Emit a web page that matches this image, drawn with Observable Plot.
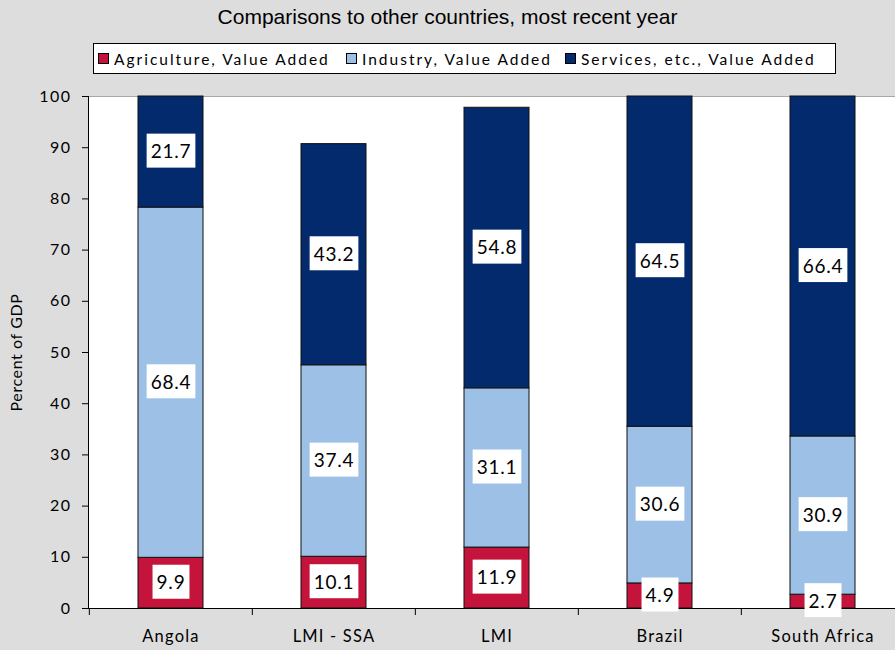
<!DOCTYPE html>
<html><head><meta charset="utf-8">
<script src="https://cdn.jsdelivr.net/npm/d3@7"></script>
<script src="https://cdn.jsdelivr.net/npm/@observablehq/plot@0.6"></script>
<style>
html,body{margin:0;padding:0;background:#dddddd;}
#wrap{position:relative;width:895px;height:650px;overflow:hidden;}
#chart{position:absolute;left:0;top:0;}
#title{position:absolute;left:0;top:5px;width:895px;text-align:center;font-family:"Liberation Sans",Arial,sans-serif;font-size:21px;color:#000;}
#legend{position:absolute;left:93px;top:43px;width:741px;height:29px;background:#fff;border:1px solid #000;}
.item{position:absolute;top:0;height:29px;display:flex;align-items:center;font-family:Lato,sans-serif;font-size:15.5px;letter-spacing:2px;color:#000;white-space:nowrap;}
.sw{display:inline-block;width:9px;height:9px;border:1px solid #000;margin-right:5px;}
#chart svg g[aria-label="y-axis tick label"] text{letter-spacing:1.5px;}
#chart svg g[aria-label="x-axis tick label"] text{letter-spacing:1.2px;}
#chart svg g[aria-label="y-axis label"] text{letter-spacing:0.6px;}
#chart svg g.vlabel text{letter-spacing:0.8px;}
</style>
</head><body>
<div id="wrap">
  <div id="chart"></div>
  <div id="title"></div>
  <div id="legend"></div>
</div>
<script>
const title = "Comparisons to other countries, most recent year";
const categories = ["Angola", "LMI - SSA", "LMI", "Brazil", "South Africa"];
const sectors = ["Agriculture, Value Added", "Industry, Value Added", "Services, etc., Value Added"];
const sectorColors = ["#c4143c", "#9dc0e6", "#022a6c"];
const agriculture = [9.9, 10.1, 11.9, 4.9, 2.7];
const industry = [68.4, 37.4, 31.1, 30.6, 30.9];
const services = [21.7, 43.2, 54.8, 64.5, 66.4];
const yTicks = [0, 10, 20, 30, 40, 50, 60, 70, 80, 90, 100];
const yLabel = "Percent of GDP";

const series = [agriculture, industry, services];
const rows = [];
categories.forEach((c, i) => {
  sectors.forEach((s, j) => rows.push({cat: c, sector: s, value: series[j][i]}));
});

document.getElementById("title").textContent = title;
const legend = document.getElementById("legend");
const legendLefts = [4, 252, 471];
sectors.forEach((s, j) => {
  const it = document.createElement("div");
  it.className = "item";
  it.style.left = legendLefts[j] + "px";
  const sw = document.createElement("span");
  sw.className = "sw";
  sw.style.background = sectorColors[j];
  it.append(sw, document.createTextNode(s));
  legend.append(it);
});

const xRange = [88, 904.6];
const step = (xRange[1] - xRange[0]) / categories.length;

const plot = Plot.plot({
  width: 895, height: 650,
  marginTop: 96, marginBottom: 42, marginLeft: 88, marginRight: 0,
  style: {background: "transparent", fontFamily: "Lato, sans-serif", fontSize: "16px", color: "#000", overflow: "hidden"},
  x: {domain: categories, range: xRange, paddingInner: 0.6, paddingOuter: 0.3, align: 0.5, label: null},
  y: {domain: [0, 100], label: null},
  color: {domain: sectors, range: sectorColors},
  marks: [
    Plot.frame({fill: "white", stroke: "none"}),
    Plot.ruleY([100], {stroke: "#a8a8a8"}),
    Plot.barY(rows, Plot.stackY({x: "cat", y: "value", fill: "sector", z: "sector", order: sectors, stroke: "#111", strokeWidth: 1, inset: 0})),
    Plot.frame({anchor: "left", stroke: "#000"}),
    Plot.ruleY([0], {stroke: "#000"}),
    Plot.ruleX(categories, {x: d => d, y1: 0, y2: 0, insetBottom: -7, dx: -step / 2, stroke: "#000"}),
    Plot.axisY({ticks: yTicks, tickSize: 6, tickPadding: 11, label: yLabel, labelAnchor: "center", labelArrow: "none", labelOffset: 78, fontSize: 16}),
    Plot.axisX({tickSize: 0, tickPadding: 22, fontSize: 16.5}),
    Plot.text(rows, Plot.stackY({x: "cat", y: "value", z: "sector", order: sectors, text: d => d.value.toFixed(1), fontSize: 19, fill: "#000", className: "vlabel"}))
  ]
});
document.getElementById("chart").append(plot);

plot.querySelectorAll("g.vlabel text").forEach(t => {
  const b = t.getBBox();
  const r = document.createElementNS("http://www.w3.org/2000/svg", "rect");
  const cy = b.y + b.height / 2;
  r.setAttribute("x", b.x - 4);
  r.setAttribute("y", cy - 17);
  r.setAttribute("width", b.width + 8);
  r.setAttribute("height", 34);
  r.setAttribute("fill", "white");
  const tr = t.getAttribute("transform");
  if (tr) r.setAttribute("transform", tr);
  t.parentNode.insertBefore(r, t);
});
</script>
</body></html>
